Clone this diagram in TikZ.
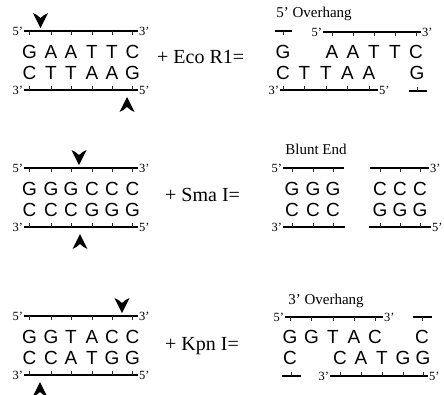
\documentclass[tikz,border=0pt]{standalone}
\usepackage{fontspec}
\setmainfont{Liberation Serif}
\newfontfamily\basefont{Liberation Sans}
\begin{document}
\begin{tikzpicture}[x=1pt,y=-1pt,
  nuc/.style={font=\basefont\fontsize{19}{20}\selectfont, inner sep=0pt},
  endlbl/.style={font=\fontsize{12.5}{13}\selectfont, inner sep=0.8pt},
  enzlbl/.style={font=\fontsize{20}{22}\selectfont, inner sep=0pt, anchor=base west},
  ttl/.style={font=\fontsize{15}{16}\selectfont, inner sep=0pt, anchor=base},
  bb/.style={line width=1.7pt},
  tk/.style={line width=0.8pt, black!85}]
\useasboundingbox (0,0) rectangle (444,394);
\newcommand\cutdown[2]{\fill (#1,#2) -- ++(-7.5,-15) to[bend left=10] ++(7.5,5) to[bend left=10] ++(7.5,-5) -- cycle;}
\newcommand\cutup[2]{\fill (#1,#2) -- ++(-7.5,15) to[bend right=10] ++(7.5,-5) to[bend right=10] ++(7.5,5) -- cycle;}

% ================= Eco RI =================
% left duplex
\draw[bb] (24,31) coordinate (e1a) -- (138,31) coordinate (e1b);
\draw[bb] (24,90) coordinate (e2a) -- (138,90) coordinate (e2b);
\node[endlbl,anchor=east] (e5a) at (e1a) {5’};
\node[endlbl,anchor=west] (e3a) at (e1b) {3’};
\node[endlbl,anchor=east] (e3b) at (e2a) {3’};
\node[endlbl,anchor=west] (e5b) at (e2b) {5’};
\foreach \x/\t/\b in {29.5/G/C,51/A/T,71/A/T,92/T/A,112/T/A,132.5/C/G}{
  \draw[tk] (\x,31) -- (\x,35);
  \draw[tk] (\x,90) -- (\x,86);
  \node[nuc] at (\x,52) {\t};
  \node[nuc] at (\x,73) {\b};
}
\cutdown{40.5}{28}
\cutup{127}{97}
\node[enzlbl] (eco) at (157,63) {+ Eco R1=};
% right fragments
\node[ttl] (eov) at (314,17) {5’ Overhang};
\draw[bb] (275,31) -- (292,31);
\draw[tk] (283,31) -- (283,35);
\node[nuc] at (283,52) {G};
\draw[bb] (323,32) coordinate (e3a0) -- (421,32) coordinate (e3b0);
\node[endlbl,anchor=east] at (e3a0) {5’};
\node[endlbl,anchor=west] at (e3b0) {3’};
\foreach \x/\t in {332/A,353/A,374/T,395/T,416/C}{
  \draw[tk] (\x,32) -- (\x,36);
  \node[nuc] at (\x,52) {\t};
}
\draw[bb] (280,90) coordinate (e4a0) -- (378,90) coordinate (e4b0);
\node[endlbl,anchor=east] at (e4a0) {3’};
\node[endlbl,anchor=west] at (e4b0) {5’};
\foreach \x/\b in {283/C,304.5/T,326/T,347.5/A,369/A}{
  \draw[tk] (\x,90) -- (\x,86);
  \node[nuc] at (\x,73) {\b};
}
\draw[bb] (409,91) -- (427,91);
\draw[tk] (417,91) -- (417,87);
\node[nuc] at (417,73) {G};

% ================= Sma I =================
\draw[bb] (24,168) coordinate (s1a) -- (138,168) coordinate (s1b);
\draw[bb] (24,227) coordinate (s2a) -- (138,227) coordinate (s2b);
\node[endlbl,anchor=east] at (s1a) {5’};
\node[endlbl,anchor=west] at (s1b) {3’};
\node[endlbl,anchor=east] at (s2a) {3’};
\node[endlbl,anchor=west] at (s2b) {5’};
\foreach \x/\t/\b in {29.5/G/C,51/G/C,71/G/C,92/C/G,112/C/G,132.5/C/G}{
  \draw[tk] (\x,168) -- (\x,172);
  \draw[tk] (\x,227) -- (\x,223);
  \node[nuc] at (\x,189) {\t};
  \node[nuc] at (\x,210) {\b};
}
\cutdown{79}{165}
\cutup{80}{234}
\node[enzlbl] (sma) at (165,201) {+ Sma I=};
\node[ttl] (blunt) at (316,154) {Blunt End};
\draw[bb] (283,168) coordinate (s3a) -- (344,168);
\draw[bb] (283,227) coordinate (s4a) -- (345,227);
\node[endlbl,anchor=east] at (s3a) {5’};
\node[endlbl,anchor=east] at (s4a) {3’};
\foreach \x in {292,313,333}{
  \draw[tk] (\x,168) -- (\x,172);
  \draw[tk] (\x,227) -- (\x,223);
  \node[nuc] at (\x,189) {G};
  \node[nuc] at (\x,210) {C};
}
\draw[bb] (370,168) -- (429,168) coordinate (s5b);
\draw[bb] (369,227) -- (431,227) coordinate (s6b);
\node[endlbl,anchor=west] at (s5b) {3’};
\node[endlbl,anchor=west] at (s6b) {5’};
\foreach \x in {380,400,420}{
  \draw[tk] (\x,168) -- (\x,172);
  \draw[tk] (\x,227) -- (\x,223);
  \node[nuc] at (\x,189) {C};
  \node[nuc] at (\x,210) {G};
}

% ================= Kpn I =================
\draw[bb] (24,316) coordinate (k1a) -- (138,316) coordinate (k1b);
\draw[bb] (24,375) coordinate (k2a) -- (138,375) coordinate (k2b);
\node[endlbl,anchor=east] at (k1a) {5’};
\node[endlbl,anchor=west] at (k1b) {3’};
\node[endlbl,anchor=east] at (k2a) {3’};
\node[endlbl,anchor=west] at (k2b) {5’};
\foreach \x/\t/\b in {29.5/G/C,51/G/C,71/T/A,92/A/T,112/C/G,132.5/C/G}{
  \draw[tk] (\x,316) -- (\x,320);
  \draw[tk] (\x,375) -- (\x,371);
  \node[nuc] at (\x,337) {\t};
  \node[nuc] at (\x,358) {\b};
}
\cutdown{122}{313}
\cutup{40}{382}
\node[enzlbl] (kpn) at (165,350) {+ Kpn I=};
\node[ttl] (kov) at (326,304) {3’ Overhang};
\draw[bb] (285,317) coordinate (k3a) -- (383,317) coordinate (k3b);
\node[endlbl,anchor=east] at (k3a) {5’};
\node[endlbl,anchor=west] at (k3b) {3’};
\foreach \x/\t in {290/G,311.5/G,333/T,354/A,375/C}{
  \draw[tk] (\x,317) -- (\x,321);
  \node[nuc] at (\x,337) {\t};
}
\draw[bb] (413,317) -- (432,317);
\draw[tk] (422,317) -- (422,321);
\node[nuc] at (422,337) {C};
\draw[bb] (282,376) -- (301,376);
\draw[tk] (291,376) -- (291,372);
\node[nuc] at (290,358) {C};
\draw[bb] (330,376) coordinate (k4a) -- (428,376) coordinate (k4b);
\node[endlbl,anchor=east] at (k4a) {3’};
\node[endlbl,anchor=west] at (k4b) {5’};
\foreach \x/\b in {340/C,361/A,382/T,403/G,423/G}{
  \draw[tk] (\x,376) -- (\x,372);
  \node[nuc] at (\x,358) {\b};
}
\end{tikzpicture}
\end{document}
